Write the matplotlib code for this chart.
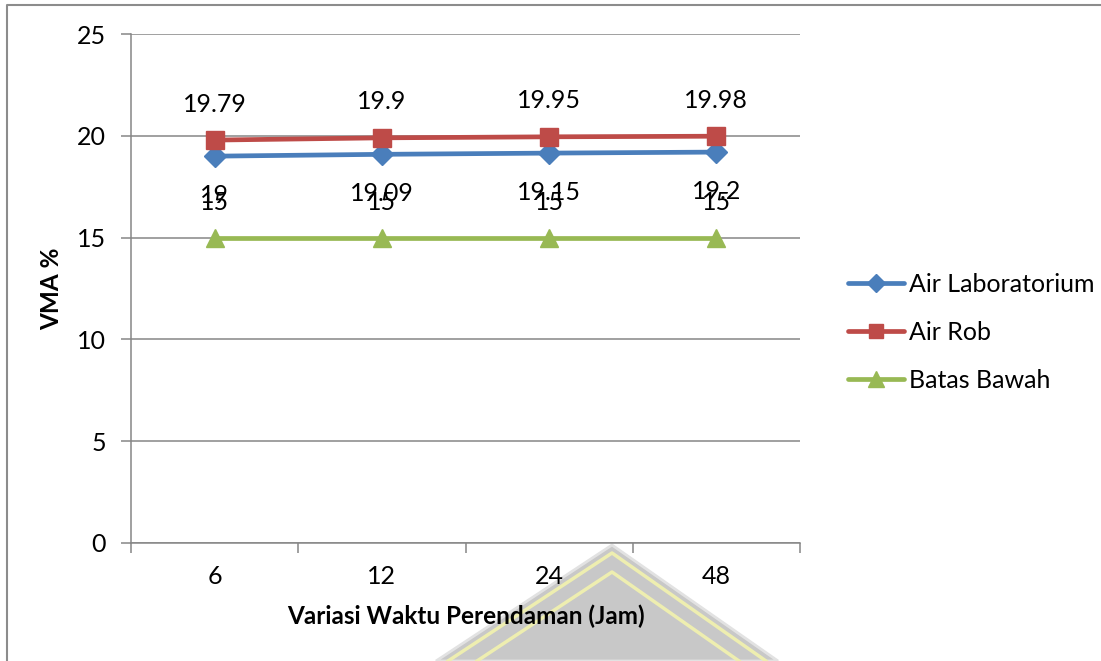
import matplotlib
matplotlib.use("Agg")
import matplotlib.pyplot as plt
from matplotlib.lines import Line2D
from matplotlib.patches import Polygon

plt.rcParams['font.family'] = ['Lato', 'DejaVu Sans']

# soaking time categories (hours) and VMA values
waktu = ['6', '12', '24', '48']
air_lab = [19, 19.09, 19.15, 19.2]
air_rob = [19.79, 19.9, 19.95, 19.98]
batas_bawah = [15, 15, 15, 15]

W, H = 1101, 661
fig = plt.figure(figsize=(W / 100, H / 100), dpi=100)
ax = fig.add_axes([131 / W, 1 - 543 / H, (800 - 131) / W, (543 - 34) / H])

grid_col = '#868686'
x = list(range(len(waktu)))
fs = 18

series = [
    ('Air Laboratorium', air_lab, '#4a7ebb', 'D', 11, -39),
    ('Air Rob', air_rob, '#be4b48', 's', 12.5, 36),
    ('Batas Bawah', batas_bawah, '#98b954', '^', 13, 35),
]
for name, vals, col, mk, ms, off in series:
    ax.plot(x, vals, color=col, lw=3.4, marker=mk, ms=ms, label=name,
            zorder=3, solid_capstyle='round')
    for xi, v in zip(x, vals):
        ax.annotate(f'{v:g}', (xi, v), xytext=(0, off), textcoords='offset pixels',
                    ha='center', va='center', fontsize=fs, color='black', zorder=4)

ax.set_xlim(-0.5, len(waktu) - 0.5)
ax.set_ylim(0, 25)
ax.set_yticks(range(0, 26, 5))
ax.yaxis.grid(True, color=grid_col, lw=1.1)
ax.set_axisbelow(True)

# category boundaries carry the tick marks, labels sit in the middle
ax.set_xticks([i - 0.5 for i in range(len(waktu) + 1)])
ax.set_xticklabels([])
ax.set_xticks(x, minor=True)
ax.set_xticklabels(waktu, minor=True, fontsize=fs)
ax.tick_params(axis='x', which='major', length=7, width=1.1, color=grid_col, direction='out')
ax.tick_params(axis='x', which='minor', length=0, pad=16)
ax.tick_params(axis='y', length=7, width=1.1, color=grid_col, pad=11, labelsize=fs)

for s in ['top', 'right']:
    ax.spines[s].set_visible(False)
for s in ['left', 'bottom']:
    ax.spines[s].set_color(grid_col)
    ax.spines[s].set_linewidth(1.1)

ax.set_xlabel('Variasi Waktu Perendaman (Jam)', fontsize=17.5, fontweight='bold')
ax.xaxis.set_label_coords(0.5, -0.12)
ax.set_ylabel('VMA %', fontsize=17.5, fontweight='bold')
ax.yaxis.set_label_coords(-0.102, 0.5)

ax.legend(loc='center left', bbox_to_anchor=(848 / W, 1 - 332 / H),
          bbox_transform=fig.transFigure, frameon=False, fontsize=fs,
          handlelength=2.25, handletextpad=0.2, labelspacing=1.0,
          borderpad=0, borderaxespad=0, markerscale=0.85)

# chart frame
fig.add_artist(Line2D([7 / W, 7 / W, 1], [0, 1 - 5 / H, 1 - 5 / H],
                      transform=fig.transFigure, color='#8c8c8c', lw=1.5))

# emblem at the bottom of the page
def fx(px):
    return px / W

def fy(py):
    return 1 - py / H

fig.add_artist(Polygon([(fx(436), fy(661)), (fx(612), fy(545)), (fx(778), fy(661))],
                       closed=True, transform=fig.transFigure, facecolor='#c8c8c8',
                       edgecolor='#e2e2e2', lw=2, zorder=-1))
for apex, left, right in [(553, 448, 766), (572, 477, 739)]:
    fig.add_artist(Line2D([fx(left), fx(612), fx(right)], [fy(661), fy(apex), fy(661)],
                          transform=fig.transFigure, color='#eeeeb0', lw=2.5, zorder=-1))

fig.savefig('out.png', dpi=100)
